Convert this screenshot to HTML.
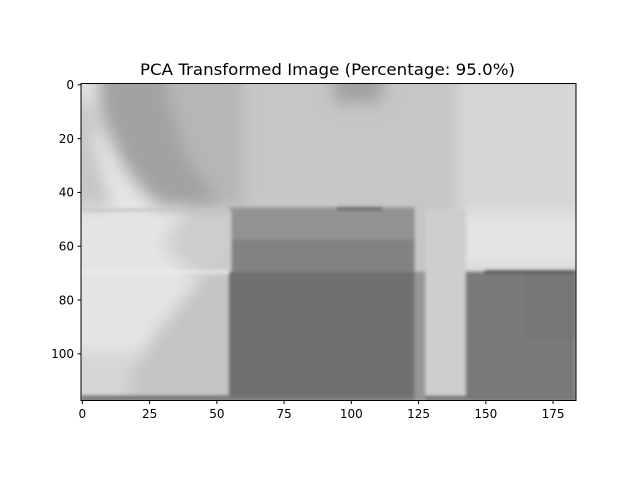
<!DOCTYPE html>
<html><head><meta charset="utf-8"><style>
body{margin:0;background:#fff}
svg text{font-family:"DejaVu Sans","Liberation Sans",sans-serif;fill:#000}
</style></head><body>
<svg id="chart" width="640" height="480" viewBox="0 0 640 480">
<defs>
<filter id="blur" x="-10%" y="-10%" width="120%" height="120%"><feGaussianBlur stdDeviation="8"/></filter>
<filter id="blur2"><feGaussianBlur stdDeviation="1.5"/></filter>
<clipPath id="clip"><rect x="81" y="83.5" width="495" height="317"/></clipPath>
</defs>
<text x="327.5" y="75" font-size="16" text-anchor="middle" textLength="375" lengthAdjust="spacingAndGlyphs">PCA Transformed Image (Percentage: 95.0%)</text>
<g clip-path="url(#clip)">
<rect x="81" y="83.5" width="495" height="317" fill="#c6c6c6"/>
<g id="soft" filter="url(#blur)"></g>
<g id="sharp" filter="url(#blur2)"></g>
</g>
<rect x="81" y="83.5" width="495" height="317" fill="none" stroke="#000" stroke-width="1"/>
<g id="axes"></g>
</svg>
<script>
// soft regions: polygon points in image pixel coords, then gray level
const softPolys = [
 [[[-5,-5],[6,-5],[4,20],[12,46],[28,46],[20,40],[8,20]],232],
 [[[6,-5],[30,-5],[38,20],[55,46],[30,46],[16,30],[8,10]],162],
 [[[30,-5],[60,-5],[60,46],[52,46],[38,25]],182],
 [[[140,-5],[190,-5],[190,46],[140,46]],214],
 [[[94,-5],[112,-5],[112,7],[94,7]],160],
 [[[-5,46],[40,46],[30,60],[45,72],[30,90],[10,118],[-5,118]],228],
 [[[40,46],[56,46],[56,70],[40,70],[30,60]],206],
 [[[45,72],[56,72],[56,118],[10,118],[30,90]],196],
 [[[-5,100],[20,100],[18,118],[-5,118]],214],
 [[[140,47],[190,47],[190,70],[140,70]],228]
];
// sharp regions: [x0, y0, x1, y1, gray]
const sharpRegions = [
 [56,47,124,58,146],[56,58,124,70,130],[55,70,127,117,112],[128,47,143,118,206],
 [143,70,184,118,122],[165,70,184,95,118],[0,116,184,118,120],[124,70,128,118,150],
 [55,46,124,47,150],[95,46,112,47,90],[150,69.5,184,70.5,70],[0,69.5,55,70.5,236],[0,46.5,55,47.5,196]
];
const xTicks = [0,25,50,75,100,125,150,175];
const yTicks = [0,20,40,60,80,100];
const X0=81, Y0=83.5, S=2.69;
const sx = v => X0 + (v+0.5)*S;
const sy = v => Y0 + (v+0.5)*S;
const px = v => X0 + v*S, py = v => Y0 + v*S;
const ns="http://www.w3.org/2000/svg";
const soft=document.getElementById('soft');
softPolys.forEach(p=>{
 const e=document.createElementNS(ns,'polygon');
 e.setAttribute('points',p[0].map(q=>px(q[0])+','+py(q[1])).join(' '));
 e.setAttribute('fill',`rgb(${p[1]},${p[1]},${p[1]})`);
 
 
 soft.appendChild(e);
});
const sharp=document.getElementById('sharp');
sharpRegions.forEach(r=>{
 const e=document.createElementNS(ns,'rect');
 e.setAttribute('x',px(r[0]));e.setAttribute('y',py(r[1]));
 e.setAttribute('width',(r[2]-r[0])*S);e.setAttribute('height',(r[3]-r[1])*S);
 e.setAttribute('fill',`rgb(${r[4]},${r[4]},${r[4]})`);
 
 
 sharp.appendChild(e);
});
const ax=document.getElementById('axes');
xTicks.forEach(t=>{
 const l=document.createElementNS(ns,'line');
 l.setAttribute('x1',sx(t));l.setAttribute('x2',sx(t));l.setAttribute('y1',400.5);l.setAttribute('y2',404);l.setAttribute('stroke','#000');
 
 
 ax.appendChild(l);
 const tx=document.createElementNS(ns,'text');
 tx.setAttribute('x',sx(t));tx.setAttribute('y',418);tx.setAttribute('font-size','12');tx.setAttribute('text-anchor','middle');
 tx.textContent=t;
 
 
 ax.appendChild(tx);
});
yTicks.forEach(t=>{
 const l=document.createElementNS(ns,'line');
 l.setAttribute('x1',77.5);l.setAttribute('x2',81);l.setAttribute('y1',sy(t));l.setAttribute('y2',sy(t));l.setAttribute('stroke','#000');
 
 
 ax.appendChild(l);
 const tx=document.createElementNS(ns,'text');
 tx.setAttribute('x',74);tx.setAttribute('y',sy(t)+4.3);tx.setAttribute('font-size','12');tx.setAttribute('text-anchor','end');
 tx.textContent=t;
 
 
 ax.appendChild(tx);
});
</script>
</body></html>
